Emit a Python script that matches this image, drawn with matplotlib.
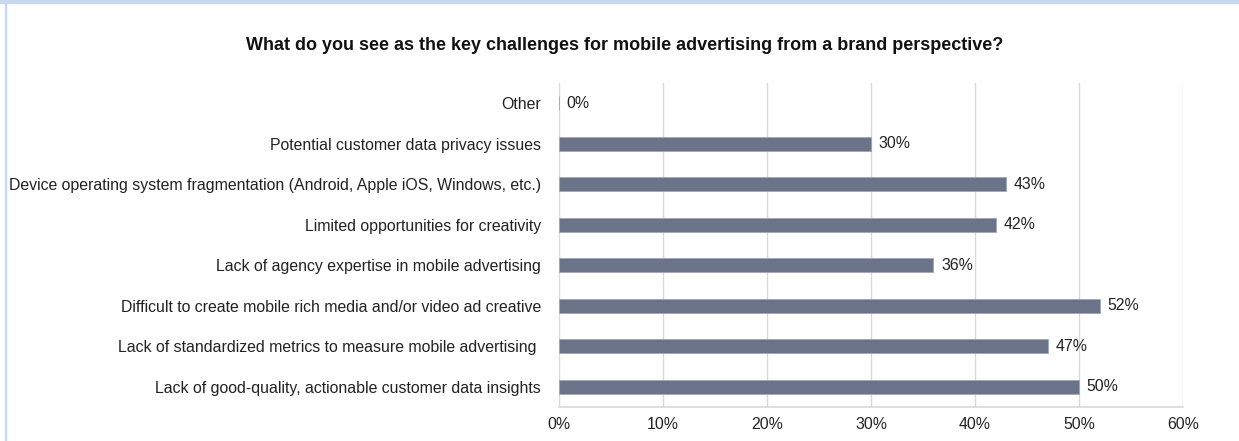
import matplotlib
matplotlib.use("Agg")
import matplotlib.pyplot as plt
from matplotlib.patches import Rectangle

categories = [
    "Lack of good-quality, actionable customer data insights",
    "Lack of standardized metrics to measure mobile advertising ",
    "Difficult to create mobile rich media and/or video ad creative",
    "Lack of agency expertise in mobile advertising",
    "Limited opportunities for creativity",
    "Device operating system fragmentation (Android, Apple iOS, Windows, etc.)",
    "Potential customer data privacy issues",
    "Other",
]
values = [50, 47, 52, 36, 42, 43, 30, 0]
xticks = [0, 10, 20, 30, 40, 50, 60]
xtick_labels = ["0%", "10%", "20%", "30%", "40%", "50%", "60%"]
title = "What do you see as the key challenges for mobile advertising from a brand perspective?"

plt.rcParams['font.family'] = ['Liberation Sans', 'DejaVu Sans']

W, H = 1239, 441
fig = plt.figure(figsize=(W / 100, H / 100), dpi=100)
ax = fig.add_axes([559 / W, 1 - 407 / H, (1183 - 559) / W, (407 - 83) / H])

bar_color = "#6B7388"
grid_color = "#D9D9D9"
fs = 11.4
y = list(range(len(categories)))
ax.barh(y, values, height=0.35, color=bar_color, edgecolor="#9EA5B5", linewidth=0.6, zorder=3)
for yi, v in zip(y, values):
    ax.text(v + 0.75, yi, f"{v}%", va="center", ha="left", fontsize=fs, color="#222222", zorder=4)

ax.set_xlim(0, 60)
ax.set_ylim(-0.5, len(categories) - 0.5)
ax.set_xticks(xticks)
ax.set_xticklabels(xtick_labels, fontsize=fs, color="#222222")
ax.set_yticks(y)
ax.set_yticklabels(categories, fontsize=fs, color="#222222")
ax.tick_params(axis="both", length=0)
ax.tick_params(axis="y", pad=13)
ax.tick_params(axis="x", pad=7)
ax.xaxis.grid(True, color=grid_color, linewidth=1.0, zorder=0)
ax.set_axisbelow(True)
for s in ["top", "right", "left"]:
    ax.spines[s].set_visible(False)
ax.spines["bottom"].set_color(grid_color)
ax.spines["bottom"].set_linewidth(1.2)

fig.text(0.5 + 0.004, 1 - 46 / H, title, ha="center", va="center", fontsize=13, fontweight="bold", color="#111111")

# light blue frame pieces (top band and left border)
fig.patches.append(Rectangle((0, 1 - 3 / H), 1, 3 / H, transform=fig.transFigure, color="#C6D9F0", zorder=0))
fig.patches.append(Rectangle((4.5 / W, 0), 1.5 / W, 1 - 3 / H, transform=fig.transFigure, color="#C6D9F0", zorder=0))

fig.savefig("out.png", dpi=100)
